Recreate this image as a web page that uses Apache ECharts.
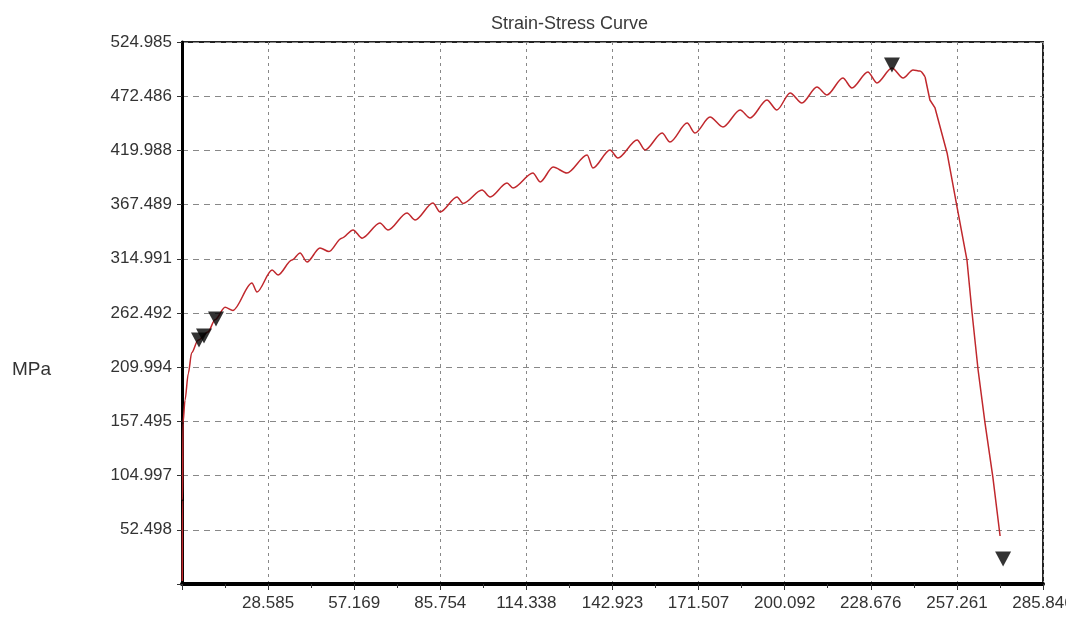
<!DOCTYPE html>
<html>
<head>
<meta charset="utf-8">
<title>Strain-Stress Curve</title>
<script src="https://cdn.jsdelivr.net/npm/echarts@6/dist/echarts.min.js"></script>
<style>
  html, body { margin: 0; padding: 0; background: #fff; }
  #chart { width: 1066px; height: 619px; }
</style>
</head>
<body>
<div id="chart"></div>
<script>
// strain (x) and stress in MPa (y)
var strain = [0.1, 0.17, 0.33, 1.0, 2.09, 3.22, 5.31, 8.63, 10.96, 14.3, 16.9, 23.2, 24.9, 29.9, 31.9,
  36.5, 39.2, 41.5, 45.8, 48.8, 53.0, 56.8, 59.8, 65.7, 68.4, 74.7, 77.4, 83.3, 85.7, 91.3, 93.3,
  99.6, 102.3, 107.9, 109.9, 116.5, 118.9, 123.2, 127.8, 134.5, 136.4, 142.1, 144.7, 151.1, 153.7,
  159.4, 162.0, 167.7, 170.3, 175.3, 179.6, 185.3, 188.6, 194.2, 197.5, 201.9, 205.8, 210.8, 214.1,
  219.4, 222.4, 227.7, 230.7, 235.7, 239.4, 242.7, 245.0, 246.7, 248.3, 250.0, 254.0, 257.3, 260.6,
  262.3, 264.3, 266.6, 269.2, 271.6];
var stress = [3, 81, 156, 178, 204, 224, 236, 244, 256, 268, 265, 291.5, 282.8, 304.1, 299.3,
  313.8, 320.6, 311.9, 325.5, 322, 335, 343, 335, 349.7, 342.9, 359.4, 352.6, 369, 360.3, 374.9, 368.6,
  381.6, 374.9, 388.4, 383.6, 398.1, 389.4, 403.9, 398.1, 415.5, 402.9, 420.4, 412.6, 430.1, 420.4,
  436.8, 428.1, 446.5, 436.8, 452.3, 442.7, 459.1, 451.4, 468.8, 459.1, 475.6, 465.9, 481.4, 473.7,
  490.1, 480.4, 495.9, 485.3, 499.8, 490.1, 497.9, 496.9, 491.1, 468.8, 461.1, 417.5, 365.2, 313.8,
  262.5, 207.3, 155.9, 103.6, 46.5];

// black triangle markers
var markStrain = [5.64, 7.3, 11.29, 235.7, 272.6];
var markStress = [236.3, 240.2, 256.7, 502.7, 24.2];

var xTickLabels = ['', '28.585', '57.169', '85.754', '114.338', '142.923', '171.507',
  '200.092', '228.676', '257.261', '285.846'];
var yTickLabels = ['', '52.498', '104.997', '157.495', '209.994', '262.492', '314.991',
  '367.489', '419.988', '472.486', '524.985'];

var xStep = 28.58455;
var yStep = 52.4985;

var curve = strain.map(function (x, i) { return [x, stress[i]]; });
// wavy hardening part is drawn smoothed, the fracture drop straight
var breakAt = strain.indexOf(246.7);
var hardening = curve.slice(0, breakAt + 1);
var fracture = curve.slice(breakAt);
var marks = markStrain.map(function (x, i) { return [x, markStress[i]]; });

var chart = echarts.init(document.getElementById('chart'));

var lineColor = '#c0282d';

chart.setOption({
  animation: false,
  title: {
    text: 'Strain-Stress Curve',
    left: 486,
    top: 10,
    textStyle: { fontFamily: 'Liberation Sans', fontSize: 18, fontWeight: 'normal', color: '#3a3a3a' }
  },
  graphic: [{
    type: 'text',
    left: 12,
    top: 360,
    style: { text: 'MPa', font: '19px "Liberation Sans"', fill: '#333' }
  }],
  grid: {
    left: 182,
    right: 23,
    top: 42,
    bottom: 35,
    outerBoundsMode: 'none',
    show: true,
    borderColor: '#222',
    borderWidth: 2
  },
  xAxis: {
    type: 'value',
    min: 0,
    max: xStep * 10,
    interval: xStep,
    axisLine: { lineStyle: { color: '#000', width: 4 } },
    axisTick: { show: true, length: 6, lineStyle: { color: '#333' } },
    minorTick: { show: true, splitNumber: 2, length: 4, lineStyle: { color: '#333' } },
    splitLine: { show: true, lineStyle: { color: '#888', type: [3, 4], width: 1 } },
    axisLabel: {
      margin: 11,
      fontFamily: 'Liberation Sans',
      fontSize: 17,
      color: '#333',
      formatter: function (v) { return xTickLabels[Math.round(v / xStep)] || ''; }
    }
  },
  yAxis: {
    type: 'value',
    min: 0,
    max: yStep * 10,
    interval: yStep,
    axisLine: { show: true, lineStyle: { color: '#000', width: 3 } },
    axisTick: { show: true, length: 5, lineStyle: { color: '#333' } },
    splitLine: { show: true, lineStyle: { color: '#888', type: [6, 5], width: 1 } },
    axisLabel: {
      margin: 10,
      fontFamily: 'Liberation Sans',
      fontSize: 17,
      color: '#333',
      formatter: function (v) { return yTickLabels[Math.round(v / yStep)] || ''; }
    }
  },
  series: [
    {
      type: 'line',
      data: hardening,
      showSymbol: false,
      smooth: 0.3,
      smoothMonotone: 'x',
      lineStyle: { color: lineColor, width: 1.5 },
      z: 3
    },
    {
      type: 'line',
      data: fracture,
      showSymbol: false,
      lineStyle: { color: lineColor, width: 1.5 },
      z: 3
    },
    {
      type: 'scatter',
      data: marks,
      symbol: 'triangle',
      symbolRotate: 180,
      symbolSize: [16, 15],
      itemStyle: { color: '#000' },
      z: 4
    }
  ]
});
</script>
</body>
</html>
